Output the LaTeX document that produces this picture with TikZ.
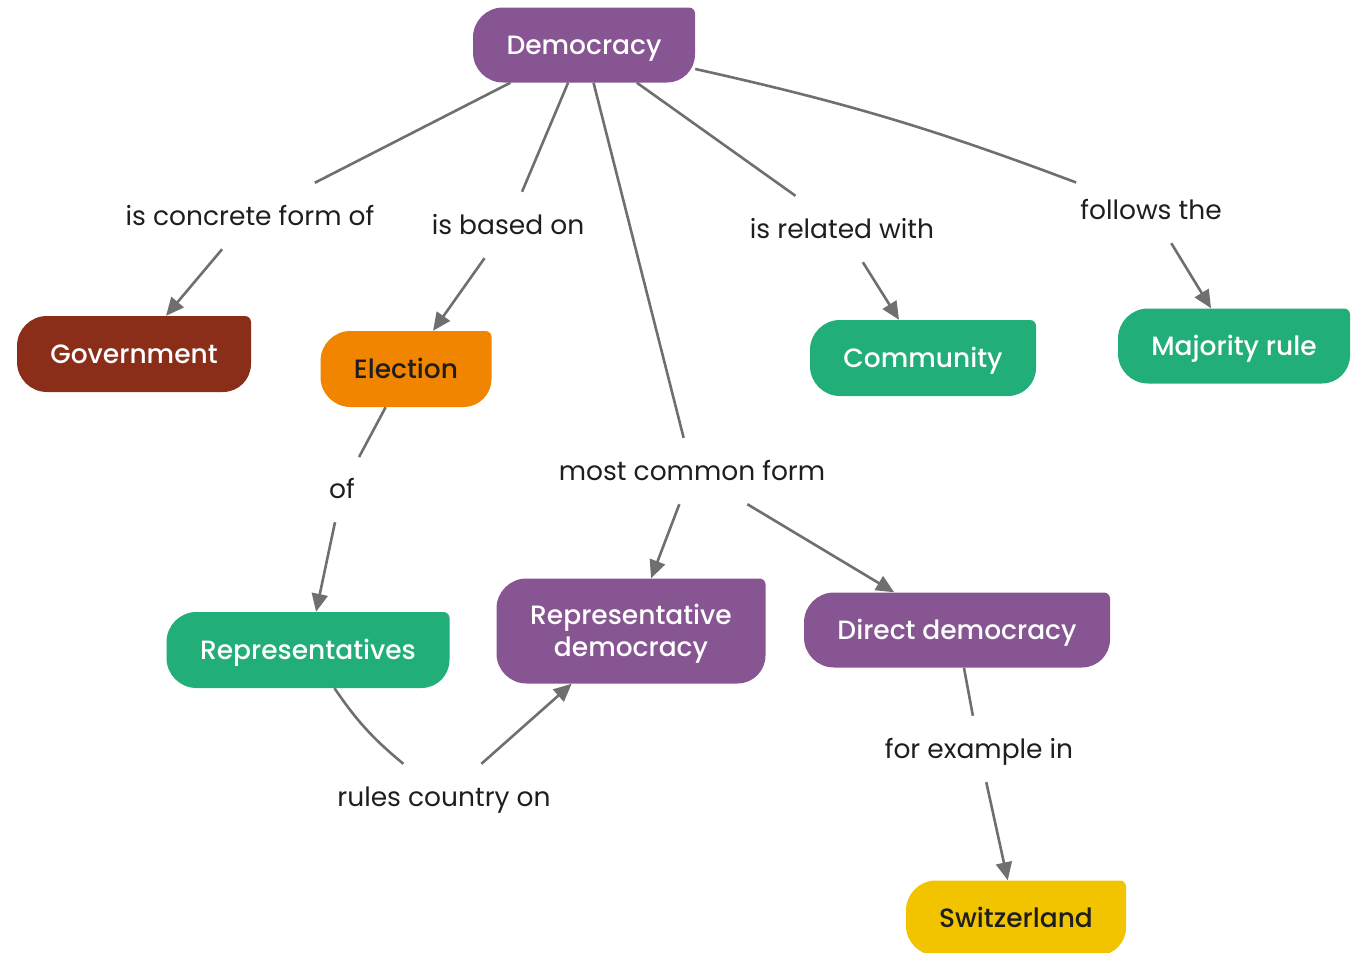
\documentclass[tikz,border=0pt]{standalone}
\usepackage{fontspec}
\setmainfont{Poppins}
\newfontfamily\medfont{Poppins Medium}
\usetikzlibrary{arrows.meta}
\definecolor{cpurple}{HTML}{865592}
\definecolor{cbrown}{HTML}{8A2E1A}
\definecolor{corange}{HTML}{F28500}
\definecolor{cgreen}{HTML}{22AE78}
\definecolor{cyellow}{HTML}{F2C400}
\definecolor{cline}{HTML}{6F6F6F}
\definecolor{cdark}{HTML}{1E1E1E}
\tikzset{
  concept/.style={inner sep=0pt, align=center, text=white,
    text height=22pt, text depth=3pt,
    font=\medfont\fontsize{26.5}{32}\selectfont,
    path picture={
      \fill[#1]
        ([xshift=30pt]path picture bounding box.north west)
        -- ([xshift=-6pt]path picture bounding box.north east)
        arc[start angle=90, end angle=0, radius=6pt]
        -- ([yshift=28pt]path picture bounding box.south east)
        arc[start angle=0, end angle=-90, radius=28pt]
        -- ([xshift=30pt]path picture bounding box.south west)
        arc[start angle=270, end angle=180, radius=30pt]
        -- ([yshift=-30pt]path picture bounding box.north west)
        arc[start angle=180, end angle=90, radius=30pt]
        -- cycle;
    }},
  lbl/.style={inner xsep=4pt, inner ysep=0pt, text height=22pt, text depth=3pt,
    minimum height=66pt, font=\fontsize{26.5}{30}\selectfont, text=cdark},
  link/.style={draw=cline, line width=2.6pt},
  arr/.style={link, -{Triangle[length=18pt, width=16pt]}}
}
\begin{document}
\begin{tikzpicture}[x=1pt, y=1pt]
  \useasboundingbox (0,0) rectangle (1358,-953);

  % concepts
  \node[concept=cpurple, minimum width=222pt, minimum height=75pt] (dem) at (584,-45) {Democracy};
  \node[concept=cbrown, minimum width=234pt, minimum height=76pt] (gov) at (134,-354) {Government};
  \node[concept=corange, text=cdark, minimum width=171pt, minimum height=76pt] (ele) at (406,-369) {Election};
  \node[concept=cgreen, minimum width=226pt, minimum height=76pt] (com) at (923,-358) {Community};
  \node[concept=cgreen, minimum width=232pt, minimum height=75pt] (maj) at (1234,-346) {Majority rule};
  \node[concept=cgreen, minimum width=283pt, minimum height=76pt] (rep) at (308,-650) {Representatives};
  \node[concept=cpurple, text height=54pt, text depth=3pt, minimum width=269pt, minimum height=105pt] (repd) at (631,-631) {Representative\\democracy};
  \node[concept=cpurple, minimum width=306pt, minimum height=75pt] (dir) at (957,-630) {Direct democracy};
  \node[concept=cyellow, text=cdark, minimum width=220pt, minimum height=75pt] (swi) at (1016,-918) {Switzerland};

  % linking phrases
  \node[lbl] (l1) at (250,-216) {is concrete form of};
  \node[lbl] (l2) at (508,-225) {is based on};
  \node[lbl] (l3) at (842,-229) {is related with};
  \node[lbl] (l4) at (1151,-210) {follows the};
  \node[lbl] (l5) at (342,-489) {of};
  \node[lbl] (l6) at (692,-471) {most common form};
  \node[lbl] (l7) at (444,-797) {rules country on};
  \node[lbl] (l8) at (979,-749) {for example in};

  % connectors
  \draw[link] (dem) -- (l1);
  \draw[arr] (l1) -- (gov);
  \draw[link] (dem) -- (l2);
  \draw[arr] (l2) -- (ele);
  \draw[link] (dem) -- (l6);
  \draw[arr] (l6) -- (repd);
  \draw[arr] (l6) -- (dir);
  \draw[link] (dem) -- (l3);
  \draw[arr] (l3) -- (com);
  \draw[link] (dem) to[bend left=4] (l4);
  \draw[arr] (l4) -- (maj);
  \draw[link] (ele) -- (l5);
  \draw[arr] (l5) -- (rep);
  \draw[link] (rep) to[bend right=8] (l7);
  \draw[arr] (l7) -- (repd);
  \draw[link] (dir) -- (l8);
  \draw[arr] (l8) -- (swi);
\end{tikzpicture}
\end{document}
